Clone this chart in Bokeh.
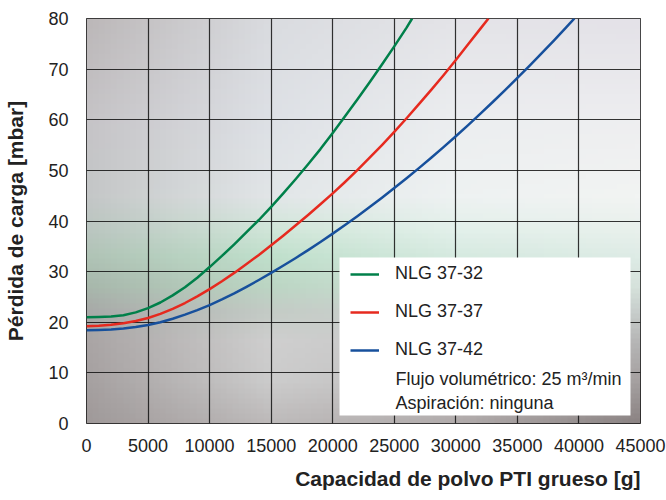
import numpy as np
from bokeh.plotting import figure
from bokeh.models import (Range1d, SingleIntervalTicker, NumeralTickFormatter, Legend,
                          LegendItem, Label, BoxAnnotation, Title)
from bokeh.embed import file_html
from bokeh.resources import INLINE

# ---- data ----
x_green = [0, 1000, 2000, 3000, 4000, 5000, 6000, 7000, 8000, 9000, 10000, 11000, 12000, 13000,
           14000, 15000, 16000, 17000, 18000, 19000, 20000, 21000, 22000, 23000, 24000, 25000,
           26000, 26450]
y_green = [21.0, 21.05, 21.15, 21.4, 21.95, 22.8, 23.9, 25.3, 26.9, 28.8, 30.9, 33.1, 35.4, 37.8,
           40.2, 42.8, 45.5, 48.3, 51.2, 54.2, 57.4, 60.7, 64.0, 67.4, 70.9, 74.5, 78.2, 80.0]

x_red = [0, 1000, 2000, 3000, 4000, 5000, 6000, 7000, 8000, 9000, 10000, 11000, 12000, 13000,
         14000, 15000, 16000, 17000, 18000, 19000, 20000, 21000, 22000, 23000, 24000, 25000,
         26000, 27000, 28000, 29000, 30000, 31000, 32000, 32650]
y_red = [19.2, 19.3, 19.5, 19.8, 20.25, 20.85, 21.65, 22.65, 23.8, 25.1, 26.55, 28.1, 29.75, 31.5,
         33.3, 35.2, 37.15, 39.15, 41.2, 43.3, 45.45, 47.7, 50.05, 52.5, 55.0, 57.6,
         60.3, 63.1, 65.9, 68.8, 71.8, 74.9, 78.0, 80.0]

x_blue = [0, 1000, 2000, 3000, 4000, 5000, 6000, 7000, 8000, 9000, 10000, 11000, 12000, 13000,
          14000, 15000, 16000, 17000, 18000, 19000, 20000, 21000, 22000, 23000, 24000, 25000,
          26000, 27000, 28000, 29000, 30000, 31000, 32000, 33000, 34000, 35000, 36000, 37000,
          38000, 39000, 39630]
y_blue = [18.4, 18.45, 18.55, 18.75, 19.05, 19.45, 20.0, 20.7, 21.5, 22.4, 23.4, 24.5, 25.7, 27.0,
          28.35, 29.75, 31.2, 32.7, 34.25, 35.85, 37.5, 39.2, 40.95, 42.75, 44.6, 46.5,
          48.45, 50.45, 52.5, 54.6, 56.75, 58.95, 61.2, 63.5, 65.85, 68.25, 70.7, 73.2,
          75.75, 78.35, 80.0]

series_names = ["NLG 37-32", "NLG 37-37", "NLG 37-42"]
series_colors = ["#00804a", "#e62a1f", "#17509c"]
notes = ["Flujo volumétrico: 25 m³/min", "Aspiración: ninguna"]

# background colour field (decorative photo-like backdrop)
bg_x = [0, 15000, 30000, 45000]
bg_y = [0, 8, 16, 22, 27, 33, 38, 45, 60, 80]
bg_rgb = [
    [(160, 154, 154), (190, 187, 187), (178, 172, 172), (140, 132, 132)],
    [(166, 161, 161), (204, 204, 204), (192, 190, 190), (165, 160, 160)],
    [(170, 165, 165), (207, 207, 207), (198, 198, 198), (182, 182, 182)],
    [(168, 170, 168), (196, 204, 198), (205, 212, 208), (200, 206, 204)],
    [(168, 184, 172), (188, 214, 196), (208, 226, 216), (214, 226, 220)],
    [(176, 196, 182), (192, 224, 204), (214, 234, 224), (222, 236, 230)],
    [(186, 198, 192), (208, 230, 216), (226, 240, 234), (232, 240, 236)],
    [(196, 199, 199), (226, 230, 232), (238, 242, 242), (242, 244, 243)],
    [(198, 196, 199), (222, 225, 230), (236, 238, 240), (238, 238, 240)],
    [(188, 184, 185), (218, 220, 224), (228, 228, 232), (228, 226, 232)],
]

# ---- figure ----
p = figure(width=666, height=500, output_backend="svg", toolbar_location=None,
           x_range=Range1d(0, 45000), y_range=Range1d(0, 80),
           min_border_left=86, min_border_right=26, min_border_top=18, min_border_bottom=77)
p.background_fill_color = "white"
p.border_fill_color = "white"
p.outline_line_color = "#111111"
p.outline_line_width = 1

# background image
nx, ny = 91, 81
xs = np.linspace(0, 45000, nx)
ys = np.linspace(0, 80, ny)
arr = np.array(bg_rgb, dtype=float)
rows_interp = np.empty((len(bg_y), nx, 3))
for i in range(len(bg_y)):
    for c in range(3):
        rows_interp[i, :, c] = np.interp(xs, bg_x, arr[i, :, c])
field = np.empty((ny, nx, 3))
for j in range(nx):
    for c in range(3):
        field[:, j, c] = np.interp(ys, bg_y, rows_interp[:, j, c])
img = np.empty((ny, nx), dtype=np.uint32)
view = img.view(dtype=np.uint8).reshape((ny, nx, 4))
for c in range(3):
    view[:, :, c] = field[:, :, c].astype(np.uint8)
view[:, :, 3] = 255
p.image_rgba(image=[img], x=0, y=0, dw=45000, dh=80, level="image")

# grid
for g in (p.xgrid, p.ygrid):
    g.grid_line_color = "#111111"
    g.grid_line_width = 1.2
    g.grid_line_alpha = 0.85
p.xgrid.ticker = SingleIntervalTicker(interval=5000)
p.ygrid.ticker = SingleIntervalTicker(interval=10)

# axes
FONT = "Liberation Sans"
p.xaxis.ticker = SingleIntervalTicker(interval=5000)
p.yaxis.ticker = SingleIntervalTicker(interval=10)
p.xaxis.formatter = NumeralTickFormatter(format="0")
for ax in (p.xaxis[0], p.yaxis[0]):
    ax.axis_line_color = None
    ax.major_tick_line_color = None
    ax.minor_tick_line_color = None
    ax.major_label_text_font = FONT
    ax.major_label_text_font_size = "18px"
    ax.major_label_text_color = "#222222"
p.yaxis.major_label_standoff = 12
p.xaxis.major_label_standoff = 9
p.yaxis.axis_label = "Pérdida de carga [mbar]"
p.yaxis.axis_label_text_font = FONT
p.yaxis.axis_label_text_font_style = "bold"
p.yaxis.axis_label_text_font_size = "21px"
p.yaxis.axis_label_text_color = "#222222"
p.yaxis.axis_label_standoff = 18

# curves
renderers = []
for xv, yv, col in zip([x_green, x_red, x_blue], [y_green, y_red, y_blue], series_colors):
    r = p.line(xv, yv, line_color=col, line_width=2.5, line_join="round")
    renderers.append(r)

# legend box
box = BoxAnnotation(left=253, right=544, bottom=8, top=166,
                    left_units="screen", right_units="screen",
                    bottom_units="screen", top_units="screen",
                    fill_color="white", fill_alpha=1.0, line_color=None)
p.add_layout(box)

legend = Legend(items=[LegendItem(label=n, renderers=[r]) for n, r in zip(series_names, renderers)],
                location=(264, 63), glyph_width=29, glyph_height=20, label_height=20,
                spacing=17, label_standoff=16, padding=0, margin=0,
                background_fill_alpha=0, border_line_color=None,
                label_text_font=FONT, label_text_font_size="18px", label_text_color="#222222")
p.add_layout(legend)

for note, ny_ in zip(notes, [45, 21]):
    p.add_layout(Label(x=309, y=ny_, x_units="screen", y_units="screen", text=note,
                       text_font=FONT, text_font_size="18px", text_color="#222222",
                       text_baseline="middle", text_align="left"))

# x-axis title, right aligned under the frame
xtitle = Title(text="Capacidad de polvo PTI grueso [g]", align="right",
               text_font=FONT, text_font_size="21px", text_font_style="bold",
               text_color="#222222", standoff=21)
p.add_layout(xtitle, "below")

open("out.html", "w").write(file_html(p, INLINE))
